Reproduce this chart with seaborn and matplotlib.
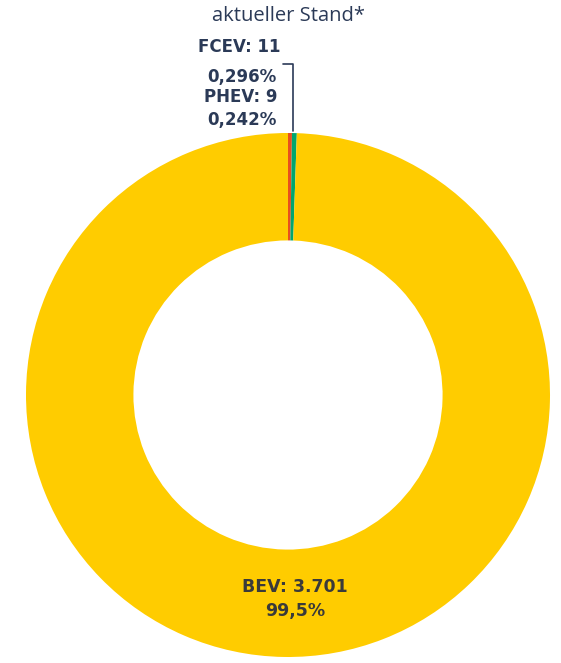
import matplotlib
matplotlib.use("Agg")
import matplotlib.pyplot as plt
import seaborn as sns
from matplotlib.lines import Line2D

# data
labels = ["PHEV", "FCEV", "BEV"]
counts = [9, 11, 3701]
shares = ["0,242%", "0,296%", "99,5%"]
count_text = ["9", "11", "3.701"]
colors = ["#E8501E", "#00A66E", "#FFCC00"]

sns.set_theme(style="white")
plt.rcParams["font.family"] = ["Open Sans", "DejaVu Sans"]

W, H = 561, 663
fig = plt.figure(figsize=(W / 100, H / 100), dpi=100)

def fx(px):
    return px / W

def fy(py):
    return 1 - py / H

# donut: center (288, 395), radius 262 px
cx, cy, r = 288, 395, 262
ax = fig.add_axes([fx(cx - r), fy(cy + r), 2 * r / W, 2 * r / H])
ax.pie(counts, colors=colors, startangle=90, counterclock=False,
       radius=1, wedgeprops=dict(width=0.41, edgecolor="none"))
ax.set_xlim(-1, 1)
ax.set_ylim(-1, 1)
ax.set_aspect("equal")
ax.axis("off")

navy = "#2B3A57"
fig.text(fx(289), fy(16), "aktueller Stand*", ha="center", va="center",
         fontsize=14.5, color=navy, family=["Open Sans", "DejaVu Sans"])

bold = ["DejaVu Sans", "Lato"]
fs = 12
fig.text(fx(280), fy(47), f"{labels[1]}: {count_text[1]}", ha="right", va="center",
         fontsize=fs, fontweight="bold", color=navy, family=bold)
fig.text(fx(277), fy(77), shares[1], ha="right", va="center",
         fontsize=fs, fontweight="bold", color=navy, family=bold)
fig.text(fx(277), fy(97), f"{labels[0]}: {count_text[0]}", ha="right", va="center",
         fontsize=fs, fontweight="bold", color=navy, family=bold)
fig.text(fx(277), fy(120), shares[0], ha="right", va="center",
         fontsize=fs, fontweight="bold", color=navy, family=bold)

# leader line
fig.add_artist(Line2D([fx(283), fx(293), fx(293)], [fy(64), fy(64), fy(131)],
                      transform=fig.transFigure, color=navy, lw=1.2))

fig.text(fx(295), fy(587), f"{labels[2]}: {count_text[2]}", ha="center", va="center",
         fontsize=12.5, fontweight="bold", color="#3A3A3A", family=bold)
fig.text(fx(295), fy(611), shares[2], ha="center", va="center",
         fontsize=12.5, fontweight="bold", color="#3A3A3A", family=bold)

fig.savefig("out.png", dpi=100)
